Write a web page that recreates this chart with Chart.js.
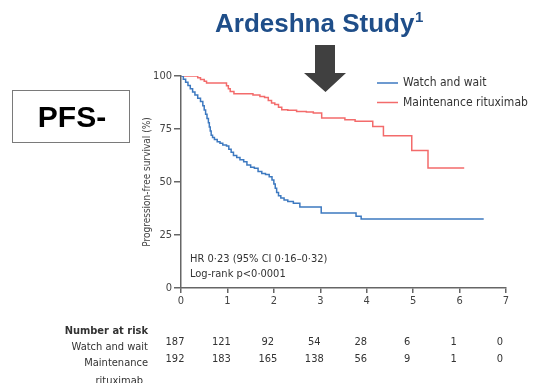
<!DOCTYPE html>
<html>
<head>
<meta charset="utf-8">
<script src="https://cdn.jsdelivr.net/npm/chart.js@4/dist/chart.umd.min.js"></script>
<style>
  html, body { margin: 0; padding: 0; background: #fff; }
  #wrap { position: relative; width: 533px; height: 383px; }
</style>
</head>
<body>
<div id="wrap"><canvas id="pfs-chart" width="533" height="383"></canvas></div>
<script>
// 各群の無増悪生存曲線（年, %）
const watchTimes = [0, 0.05, 0.1, 0.15, 0.2, 0.25, 0.3, 0.36, 0.42, 0.47, 0.5, 0.53, 0.56, 0.59, 0.61, 0.63, 0.65, 0.68, 0.72, 0.78, 0.84, 0.9, 0.98, 1.03, 1.08, 1.13, 1.2, 1.27, 1.35, 1.42, 1.5, 1.58, 1.66, 1.74, 1.82, 1.9, 1.96, 2.0, 2.03, 2.06, 2.1, 2.15, 2.22, 2.3, 2.42, 2.56, 3.02, 3.77, 3.88, 6.52];
const watchValues = [100, 98.5, 97, 95.5, 94, 92.5, 91, 89.5, 88, 86, 84, 82, 80, 78, 76, 74, 72, 71, 70, 69, 68.3, 67.5, 67, 65.5, 64, 62.5, 61.5, 60.5, 59.5, 58, 57, 56.5, 55, 54, 53.5, 52.5, 51, 49, 47, 45, 43.5, 42.5, 41.5, 40.8, 40, 38.2, 35.4, 33.8, 32.5, 32.5];

const maintTimes = [0, 0.3, 0.36, 0.42, 0.5, 0.55, 0.84, 0.98, 1.02, 1.06, 1.14, 1.55, 1.7, 1.8, 1.88, 1.95, 2.02, 2.1, 2.17, 2.3, 2.49, 2.7, 2.85, 3.03, 3.53, 3.75, 4.13, 4.36, 4.97, 5.32, 6.1];
const maintValues = [100, 100, 99.2, 98.3, 97.5, 96.7, 96.7, 95.4, 94, 92.7, 91.6, 91, 90.3, 89.8, 88.5, 87.3, 86.5, 85.3, 84.1, 83.8, 83.3, 83, 82.5, 80.2, 79.4, 78.6, 76.2, 71.8, 64.9, 56.6, 56.6];

// 軸の目盛り
const xTicks = [0, 1, 2, 3, 4, 5, 6, 7];
const yTicks = [0, 25, 50, 75, 100];

// Number at risk
const riskWatch = [187, 121, 92, 54, 28, 6, 1, 0];
const riskMaint = [192, 183, 165, 138, 56, 9, 1, 0];

const seriesLabels = ['Watch and wait', 'Maintenance rituximab'];
const seriesColors = ['#3d79c0', '#f36b6b'];

const NARROW = "'DejaVu Sans Condensed', 'Liberation Sans Narrow', sans-serif";

function toPoints(times, values) {
    return times.map((t, i) => ({ x: t, y: values[i] }));
}

// 図の周りの注釈・凡例・表
const overlayPlugin = {
    id: 'overlay',
    afterDraw(chart) {
        const ctx = chart.ctx;
        const xs = chart.scales.x;
        ctx.save();

        // タイトル
        ctx.fillStyle = '#1f4e89';
        ctx.font = "bold 26px 'Liberation Sans', Arial, sans-serif";
        ctx.textAlign = 'left';
        ctx.textBaseline = 'alphabetic';
        ctx.fillText('Ardeshna Study', 215, 32);
        ctx.font = "bold 15px 'Liberation Sans', Arial, sans-serif";
        ctx.fillText('1', 415, 22);

        // 矢印
        ctx.fillStyle = '#404040';
        ctx.beginPath();
        ctx.moveTo(315, 45);
        ctx.lineTo(335, 45);
        ctx.lineTo(335, 73);
        ctx.lineTo(346, 73);
        ctx.lineTo(325.5, 92);
        ctx.lineTo(304, 73);
        ctx.lineTo(315, 73);
        ctx.closePath();
        ctx.fill();

        // PFS- ボックス
        ctx.strokeStyle = '#7a7a7a';
        ctx.lineWidth = 1;
        ctx.strokeRect(12.5, 90.5, 117, 52);
        ctx.fillStyle = '#000';
        ctx.font = "bold 30px 'Liberation Sans', Arial, sans-serif";
        ctx.textAlign = 'center';
        ctx.fillText('PFS-', 72, 127);

        // 凡例
        chart.data.datasets.forEach((ds, i) => {
            const y = 83 + i * 19.5;
            ctx.strokeStyle = ds.borderColor;
            ctx.lineWidth = 1.5;
            ctx.beginPath();
            ctx.moveTo(377, y);
            ctx.lineTo(398, y);
            ctx.stroke();
            ctx.fillStyle = '#333';
            ctx.font = '12px ' + NARROW;
            ctx.textAlign = 'left';
            ctx.textBaseline = 'middle';
            ctx.fillText(ds.label, 403, y);
        });

        // HR 注記
        ctx.fillStyle = '#333';
        ctx.font = '11px ' + NARROW;
        ctx.textAlign = 'left';
        ctx.textBaseline = 'middle';
        ctx.fillText('HR 0·23 (95% CI 0·16–0·32)', 190, 259);
        ctx.fillText('Log-rank p<0·0001', 190, 274);

        // Number at risk
        ctx.textAlign = 'right';
        ctx.font = 'bold 11px ' + NARROW;
        ctx.fillText('Number at risk', 148, 331);
        ctx.font = '11px ' + NARROW;
        ctx.fillText('Watch and wait', 148, 347);
        ctx.fillText('Maintenance', 148, 363);
        ctx.fillText('rituximab', 143, 381);

        ctx.textAlign = 'center';
        xTicks.forEach((t, i) => {
            const px = xs.getPixelForValue(t) - 6;
            ctx.fillText(String(riskWatch[i]), px, 342);
            ctx.fillText(String(riskMaint[i]), px, 359);
        });

        ctx.restore();
    }
};

const ctx = document.getElementById('pfs-chart').getContext('2d');
new Chart(ctx, {
    type: 'line',
    data: {
        datasets: [
            {
                label: seriesLabels[0],
                data: toPoints(watchTimes, watchValues),
                borderColor: seriesColors[0],
                borderWidth: 1.5,
                stepped: true,
                pointRadius: 0,
                fill: false
            },
            {
                label: seriesLabels[1],
                data: toPoints(maintTimes, maintValues),
                borderColor: seriesColors[1],
                borderWidth: 1.5,
                stepped: true,
                pointRadius: 0,
                fill: false
            }
        ]
    },
    options: {
        responsive: false,
        animation: false,
        layout: {
            padding: { left: 135, top: 76, right: 27, bottom: 70 }
        },
        plugins: {
            legend: { display: false },
            tooltip: { enabled: false }
        },
        scales: {
            x: {
                type: 'linear',
                min: 0,
                max: 7,
                afterFit: s => { s.height = 25; },
                afterBuildTicks: s => { s.ticks = xTicks.map(v => ({ value: v })); },
                border: { display: true, color: '#666', width: 1.5 },
                grid: { drawOnChartArea: false, drawTicks: true, tickLength: 5, color: '#666', lineWidth: 1.5 },
                ticks: { color: '#444', font: { size: 11, family: NARROW }, padding: 2, maxRotation: 0 }
            },
            y: {
                min: 0,
                max: 100,
                afterFit: s => { s.width = 46; },
                afterBuildTicks: s => { s.ticks = yTicks.map(v => ({ value: v })); },
                border: { display: true, color: '#666', width: 1.5 },
                grid: { drawOnChartArea: false, drawTicks: true, tickLength: 7, color: '#666', lineWidth: 1.5 },
                ticks: { color: '#444', font: { size: 11, family: NARROW }, padding: 2 },
                title: {
                    display: true,
                    text: 'Progression-free survival (%)',
                    color: '#444',
                    font: { size: 10, family: NARROW },
                    padding: { top: 6, bottom: 0 }
                }
            }
        }
    },
    plugins: [overlayPlugin]
});
</script>
</body>
</html>
